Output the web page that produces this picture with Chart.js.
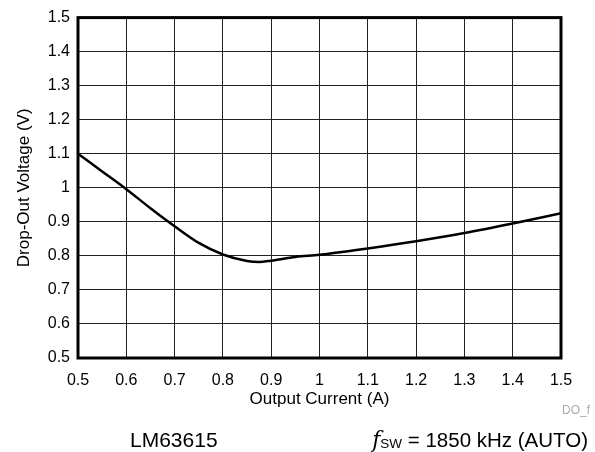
<!DOCTYPE html>
<html>
<head>
<meta charset="utf-8">
<script src="https://cdn.jsdelivr.net/npm/chart.js@4.4.1/dist/chart.umd.min.js"></script>
<style>
  html, body { margin: 0; padding: 0; background: #fff; }
  #wrap { position: relative; width: 595px; height: 452px; font-family: "Liberation Sans", Arial, sans-serif; }
  #wrap canvas { position: absolute; left: 0; top: 0; }
  .note { position: absolute; color: #000; white-space: nowrap; line-height: 24px; }
</style>
</head>
<body>
<div id="wrap">
  <canvas id="dropout-chart" width="595" height="452"></canvas>
  <div class="note" style="left:562px; top:398px; font-size:12px; color:#aaa;">DO_f</div>
  <div class="note" style="left:130px; top:428px; font-size:21px;">LM63615</div>
  <div class="note" style="right:7px; top:428px; font-size:20.5px;"><i style="font-family:'DejaVu Serif',serif;font-size:22px;">f</i><span style="font-size:13.5px;position:relative;top:1px;">SW</span> = 1850 kHz (AUTO)</div>
</div>
<script>
// Output current (A) vs drop-out voltage (V)
const current = [0.5, 0.55, 0.6, 0.65, 0.7, 0.75, 0.8, 0.85, 0.875, 0.9, 0.95, 1.0, 1.1, 1.2, 1.3, 1.4, 1.5];
const dropout = [1.1, 1.048, 0.996, 0.94, 0.887, 0.838, 0.804, 0.785, 0.782, 0.786, 0.797, 0.803, 0.822, 0.843, 0.867, 0.895, 0.925];

const xTicks = [0.5, 0.6, 0.7, 0.8, 0.9, 1, 1.1, 1.2, 1.3, 1.4, 1.5];
const yTicks = [0.5, 0.6, 0.7, 0.8, 0.9, 1, 1.1, 1.2, 1.3, 1.4, 1.5];

const tickFont = { family: '"Liberation Sans", Arial, sans-serif', size: 16 };
const titleFont = { family: '"Liberation Sans", Arial, sans-serif', size: 17 };

// frame round the plot area (top/right are not scale borders)
const framePlugin = {
  id: 'frame',
  afterDraw(chart) {
    const { ctx, chartArea: a } = chart;
    ctx.save();
    ctx.strokeStyle = '#000';
    ctx.lineWidth = 3;
    ctx.strokeRect(a.left, a.top, a.right - a.left, a.bottom - a.top);
    ctx.restore();
  }
};

new Chart(document.getElementById('dropout-chart'), {
  type: 'line',
  data: {
    datasets: [{
      data: current.map((x, i) => ({ x, y: dropout[i] })),
      borderColor: '#000',
      borderWidth: 2.5,
      pointRadius: 0,
      cubicInterpolationMode: 'monotone',
      fill: false,
    }],
  },
  options: {
    responsive: false,
    animation: false,
    layout: { padding: { left: 0, top: 17, right: 34, bottom: 42 } },
    plugins: { legend: { display: false }, tooltip: { enabled: false } },
    scales: {
      x: {
        type: 'linear',
        min: 0.5, max: 1.5,
        afterBuildTicks: s => { s.ticks = xTicks.map(v => ({ value: v })); },
        afterFit: s => { s.height = 52; },
        ticks: { color: '#000', font: tickFont, padding: 13, maxRotation: 0, callback: v => String(v) },
        grid: { color: '#222', lineWidth: 1, drawTicks: false },
        border: { display: false },
        title: { display: true, text: 'Output Current (A)', color: '#000', font: titleFont, padding: { top: 0, bottom: 0 } },
      },
      y: {
        type: 'linear',
        min: 0.5, max: 1.5,
        afterBuildTicks: s => { s.ticks = yTicks.map(v => ({ value: v })); },
        afterFit: s => { s.width = 78; },
        ticks: { color: '#000', font: tickFont, padding: 8, callback: v => String(v) },
        grid: { color: '#222', lineWidth: 1, drawTicks: false },
        border: { display: false },
        title: { display: true, text: 'Drop-Out Voltage (V)', color: '#000', font: titleFont, padding: { top: 14, bottom: 0 } },
      },
    },
  },
  plugins: [framePlugin],
});
</script>
</body>
</html>
